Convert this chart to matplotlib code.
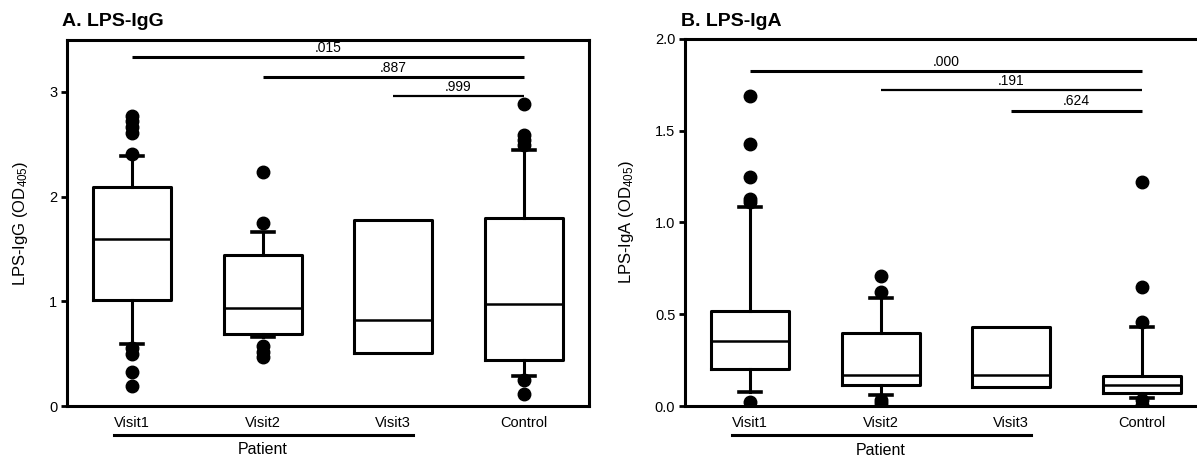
import matplotlib
matplotlib.use("Agg")
import matplotlib.pyplot as plt
from matplotlib.lines import Line2D

plt.rcParams['font.family'] = ['Liberation Sans', 'DejaVu Sans']
plt.rcParams['mathtext.fontset'] = 'custom'
plt.rcParams['mathtext.rm'] = 'Liberation Sans'
plt.rcParams['mathtext.default'] = 'regular'

groups = ["Visit1", "Visit2", "Visit3", "Control"]

# A. LPS-IgG  (box stats)
igg_whislo = [0.59, 0.66, 0.51, 0.29]
igg_q1 = [1.01, 0.69, 0.51, 0.44]
igg_med = [1.59, 0.94, 0.82, 0.97]
igg_q3 = [2.09, 1.44, 1.78, 1.80]
igg_whishi = [2.39, 1.66, 1.78, 2.44]
igg_fliers = [[2.77, 2.72, 2.66, 2.61, 2.41, 0.55, 0.50, 0.32, 0.19],
              [2.23, 1.75, 0.57, 0.52, 0.47],
              [],
              [2.88, 2.59, 2.54, 2.49, 0.25, 0.11]]
igg_pairs = [(1, 4), (2, 4), (3, 4)]
igg_p = [".015", ".887", ".999"]
igg_p_y = [3.33, 3.14, 2.96]

# B. LPS-IgA
iga_whislo = [0.075, 0.06, 0.105, 0.045]
iga_q1 = [0.20, 0.115, 0.105, 0.073]
iga_med = [0.354, 0.17, 0.17, 0.115]
iga_q3 = [0.52, 0.40, 0.43, 0.165]
iga_whishi = [1.086, 0.59, 0.43, 0.43]
iga_fliers = [[1.69, 1.43, 1.25, 1.13, 1.11, 0.02],
              [0.71, 0.62, 0.03, 0.015],
              [],
              [1.22, 0.65, 0.456, 0.03, 0.005]]
iga_pairs = [(1, 4), (2, 4), (3, 4)]
iga_p = [".000", ".191", ".624"]
iga_p_y = [1.826, 1.72, 1.61]


def draw_panel(ax, whislo, q1, med, q3, whishi, fliers, pairs, pvals, p_y,
               p_lw, ylim, yticks, yfmt, ylabel, title, title_x):
    stats = []
    for i, g in enumerate(groups):
        stats.append({"label": g, "whislo": whislo[i], "q1": q1[i],
                      "med": med[i], "q3": q3[i], "whishi": whishi[i],
                      "fliers": fliers[i]})
    pos = [1, 2, 3, 4]
    art = ax.bxp(stats, positions=pos, widths=0.6, capwidths=0.17,
                 boxprops=dict(color="black", lw=2.2),
                 medianprops=dict(color="black", lw=1.8),
                 whiskerprops=dict(color="black", lw=2.2),
                 capprops=dict(color="black", lw=2.6),
                 flierprops=dict(marker="o", markerfacecolor="black",
                                 markeredgecolor="black", markersize=9))
    # Visit3 has no whiskers
    for k in (4, 5):
        art["caps"][k].set_visible(False)
        art["whiskers"][k].set_visible(False)

    # significance bars
    for (a, b), p, y, lw in zip(pairs, pvals, p_y, p_lw):
        ax.plot([a, b], [y, y], color="black", lw=lw, solid_capstyle="butt")
        ax.annotate(p, xy=((a + b) / 2, y), xytext=(0, 1.5),
                    textcoords="offset points", ha="center", va="bottom",
                    fontsize=10)

    ax.set_xlim(0.5, 4.5)
    ax.set_ylim(*ylim)
    ax.set_yticks(yticks)
    ax.set_yticklabels([yfmt.format(t) for t in yticks])
    ax.set_xticks(pos)
    ax.set_xticklabels(groups)
    ax.tick_params(axis="x", length=0, pad=7, labelsize=10.5)
    ax.tick_params(axis="y", length=4, width=2, pad=3, labelsize=10.5)
    for s in ax.spines.values():
        s.set_linewidth(2.2)
    ax.set_ylabel(ylabel, fontsize=12)

    # "Patient" grouping line under Visit1..Visit3
    tr = ax.get_xaxis_transform()
    ax.add_line(Line2D([0.86, 3.15], [-0.079, -0.079], transform=tr,
                       color="black", lw=2.2, clip_on=False))
    ax.text(2, -0.12, "Patient", transform=tr, ha="center", va="center",
            fontsize=11.5)

    ax.figure.text(title_x, 1 - 22 / 458, title, fontsize=14,
                   fontweight="bold", ha="left", va="center")


fig = plt.figure(figsize=(11.97, 4.58), dpi=100)
axA = fig.add_axes([67 / 1197, 1 - 406 / 458, 522 / 1197, 366 / 458])
axB = fig.add_axes([685 / 1197, 1 - 406 / 458, 522 / 1197, 367 / 458])

draw_panel(axA, igg_whislo, igg_q1, igg_med, igg_q3, igg_whishi, igg_fliers,
           igg_pairs, igg_p, igg_p_y, [2.2, 2.2, 1.6], (0, 3.495),
           [0, 1, 2, 3], "{:.0f}", "LPS-IgG (OD$_{405}$)", "A. LPS-IgG",
           62 / 1197)
axA.yaxis.set_label_coords(-0.07, 0.5)

draw_panel(axB, iga_whislo, iga_q1, iga_med, iga_q3, iga_whishi, iga_fliers,
           iga_pairs, iga_p, iga_p_y, [2.2, 1.6, 2.2], (0, 2.0),
           [0.0, 0.5, 1.0, 1.5, 2.0], "{:.1f}", "LPS-IgA (OD$_{405}$)",
           "B. LPS-IgA", 681 / 1197)
axB.yaxis.set_label_coords(-0.093, 0.5)

fig.savefig("out.png", dpi=100)
